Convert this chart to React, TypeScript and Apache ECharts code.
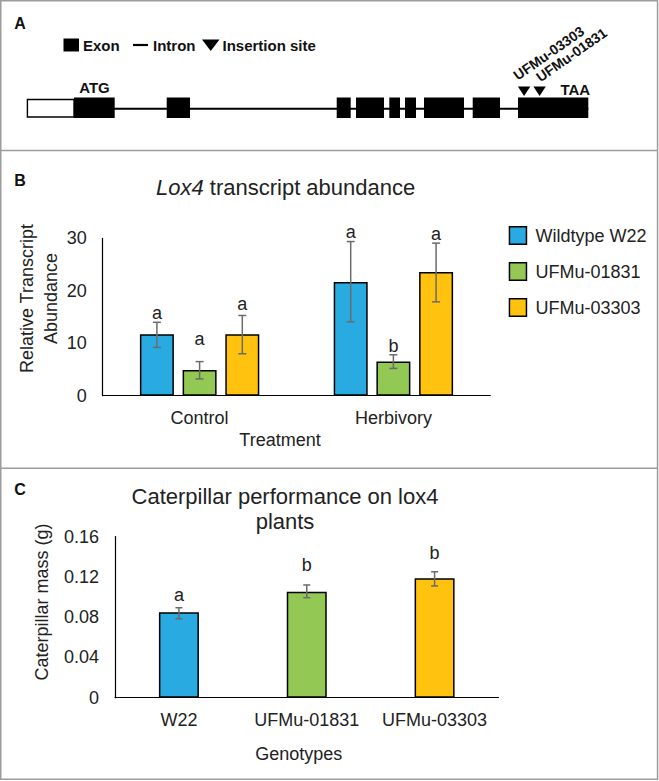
import React, { useEffect, useRef } from "react";
import * as echarts from "echarts";

const FONT = '"Liberation Sans", Arial, Helvetica, sans-serif';
const TEXT = "#222222";
const ERR = "#6b6b6b";

// ---------- Panel A: Lox4 gene model (relative gene position units) ----------
const utrStart = 0;
const utrEnd = 47.3;
const exonStarts = [47.3, 140, 310, 329.3, 362.6, 378.3, 397.3, 446, 491.3];
const exonEnds = [88, 163.3, 324, 357.3, 373.3, 389.3, 437.3, 473.3, 561.6];
const geneEnd = 561.6;
const insertionSites = [497.4, 512.9];
const insertionNames = ["UFMu-03303", "UFMu-01831"];
const codonLabels = ["ATG", "TAA"];
const codonPositions = [67.8, 548.6];

// ---------- Panel B: Lox4 transcript abundance ----------
const treatments = ["Control", "Herbivory"];
const genotypesB = ["Wildtype W22", "UFMu-01831", "UFMu-03303"];
const wildtypeW22 = [11.7, 21.7];
const ufmu01831 = [4.9, 6.5];
const ufmu03303 = [11.7, 23.6];
const wildtypeLow = [9.2, 14.1];
const wildtypeHigh = [14.0, 29.4];
const ufmu01831Low = [3.2, 5.2];
const ufmu01831High = [6.5, 7.8];
const ufmu03303Low = [8.0, 17.9];
const ufmu03303High = [15.3, 29.1];
const wildtypeLetters = ["a", "a"];
const ufmu01831Letters = ["a", "b"];
const ufmu03303Letters = ["a", "a"];
const wildtypeLetterAt = [15.4, 31.0];
const ufmu01831LetterAt = [10.6, 9.2];
const ufmu03303LetterAt = [17.2, 30.6];
const yMaxB = 30;
const yStepB = 10;

// ---------- Panel C: Caterpillar performance ----------
const genotypesC = ["W22", "UFMu-01831", "UFMu-03303"];
const caterpillarMass = [0.0848, 0.1052, 0.1185];
const massLow = [0.0784, 0.0993, 0.1109];
const massHigh = [0.0893, 0.1119, 0.125];
const massLetters = ["a", "b", "b"];
const massLetterAt = [0.1009, 0.1307, 0.1426];
const yMaxC = 0.16;
const yStepC = 0.04;

const COLORS = ["#29abe2", "#92c853", "#ffc20e"];
const BAR_W_B = 34;
const BAR_STEP_B = 42.7;
const BAR_W_C = 40;

function textEl(x: number, y: number, text: string, size: number, extra: any = {}) {
  return {
    type: "text",
    x,
    y,
    silent: true,
    style: {
      text,
      fill: TEXT,
      fontSize: size,
      fontFamily: FONT,
      align: "center",
      verticalAlign: "middle",
      textAlign: "center",
      textVerticalAlign: "middle",
      ...extra,
    },
  };
}

function errSeries(
  xAxisIndex: number,
  low: number[],
  high: number[],
  letters: string[],
  letterAt: number[],
  offset: number,
  capHalf: number
) {
  return {
    type: "custom",
    xAxisIndex,
    yAxisIndex: xAxisIndex,
    silent: true,
    z: 5,
    data: low.map((l, i) => [i, l, high[i], letterAt[i]]),
    renderItem: (params: any, api: any) => {
      const i = api.value(0);
      const pl = api.coord([i, api.value(1)]);
      const ph = api.coord([i, api.value(2)]);
      const pt = api.coord([i, api.value(3)]);
      const x = pl[0] + offset;
      const ls = { stroke: ERR, lineWidth: 1.5 };
      return {
        type: "group",
        children: [
          { type: "line", shape: { x1: x, y1: pl[1], x2: x, y2: ph[1] }, style: ls },
          { type: "line", shape: { x1: x - capHalf, y1: pl[1], x2: x + capHalf, y2: pl[1] }, style: ls },
          { type: "line", shape: { x1: x - capHalf, y1: ph[1], x2: x + capHalf, y2: ph[1] }, style: ls },
          textEl(x, pt[1] - 1.5, letters[params.dataIndex], 18),
        ],
      };
    },
  };
}

export default function App() {
  const ref = useRef<HTMLDivElement>(null);

  useEffect(() => {
    if (!ref.current) return;
    const chart = echarts.init(ref.current, undefined, { renderer: "svg" });

    const barsB = [wildtypeW22, ufmu01831, ufmu03303].map((d, k) => ({
      type: "bar",
      name: genotypesB[k],
      xAxisIndex: 1,
      yAxisIndex: 1,
      data: d,
      barWidth: BAR_W_B,
      barGap: "25.6%",
      silent: true,
      itemStyle: { color: COLORS[k], borderColor: "#000", borderWidth: 1.5 },
    }));

    const errB = [
      errSeries(1, wildtypeLow, wildtypeHigh, wildtypeLetters, wildtypeLetterAt, -BAR_STEP_B, 4),
      errSeries(1, ufmu01831Low, ufmu01831High, ufmu01831Letters, ufmu01831LetterAt, 0, 4),
      errSeries(1, ufmu03303Low, ufmu03303High, ufmu03303Letters, ufmu03303LetterAt, BAR_STEP_B, 4),
    ];

    const axisLine = { show: true, lineStyle: { color: "#000", width: 1.2 } };
    const labelStyle = { fontSize: 18, color: TEXT, fontFamily: FONT };

    const option: any = {
      animation: false,
      textStyle: { fontFamily: FONT },
      title: [
        {
          text: "{i|Lox4} transcript abundance",
          left: 285.6,
          top: 176,
          textAlign: "center",
          textVerticalAlign: "top",
          padding: 0,
          textStyle: {
            fontSize: 22,
            fontWeight: "normal",
            color: TEXT,
            fontFamily: FONT,
            rich: { i: { fontStyle: "italic", fontSize: 22, color: TEXT, fontFamily: FONT } },
          },
        },
        {
          text: "Caterpillar performance on lox4\nplants",
          left: 285,
          top: 484.2,
          textAlign: "center",
          textVerticalAlign: "top",
          padding: 0,
          textStyle: { fontSize: 22, lineHeight: 25, fontWeight: "normal", color: TEXT, fontFamily: FONT },
        },
      ],
      legend: {
        data: genotypesB,
        orient: "vertical",
        left: 508.7,
        top: 226,
        padding: 0,
        itemWidth: 17,
        itemHeight: 17.5,
        itemGap: 17,
        icon: "rect",
        selectedMode: false,
        itemStyle: { borderColor: "#000", borderWidth: 1.5 },
        textStyle: { fontSize: 18, color: TEXT, fontFamily: FONT, padding: [0, 0, 0, 4] },
      },
      grid: [
        { left: 26.7, top: 97.5, width: 561.6, height: 20.5, outerBoundsMode: "none" },
        { left: 102.7, top: 238.4, width: 387.6, height: 157.3, outerBoundsMode: "none" },
        { left: 115, top: 536.5, width: 383.5, height: 161.2, outerBoundsMode: "none" },
      ],
      xAxis: [
        { gridIndex: 0, type: "value", min: 0, max: geneEnd, show: false },
        {
          gridIndex: 1,
          type: "category",
          data: treatments,
          name: "Treatment",
          nameLocation: "middle",
          nameGap: 35,
          nameMoveOverlap: false,
          nameTextStyle: { ...labelStyle, padding: [0, 33, 0, 0] },
          axisLine,
          axisTick: { show: false },
          axisLabel: { ...labelStyle, margin: 13, interval: 0 },
        },
        {
          gridIndex: 2,
          type: "category",
          data: genotypesC,
          name: "Genotypes",
          nameLocation: "middle",
          nameGap: 47,
          nameMoveOverlap: false,
          nameTextStyle: { ...labelStyle, padding: [0, 16, 0, 0] },
          axisLine,
          axisTick: { show: false },
          axisLabel: { ...labelStyle, margin: 13, interval: 0, hideOverlap: false },
        },
      ],
      yAxis: [
        { gridIndex: 0, type: "value", min: 0, max: 1, show: false },
        {
          gridIndex: 1,
          type: "value",
          min: 0,
          max: yMaxB,
          interval: yStepB,
          name: "Relative Transcript\nAbundance",
          nameLocation: "middle",
          nameGap: 40,
          nameMoveOverlap: false,
          nameTextStyle: { ...labelStyle, lineHeight: 23.5, padding: [0, 0, 0, 37] },
          axisLine,
          axisTick: { show: false },
          splitLine: { show: false },
          axisLabel: { ...labelStyle, margin: 16 },
        },
        {
          gridIndex: 2,
          type: "value",
          min: 0,
          max: yMaxC,
          interval: yStepC,
          name: "Caterpillar mass (g)",
          nameLocation: "middle",
          nameGap: 64,
          nameMoveOverlap: false,
          nameTextStyle: { ...labelStyle, padding: [0, 0, 0, 30] },
          axisLine,
          axisTick: { show: false },
          splitLine: { show: false },
          axisLabel: { ...labelStyle, margin: 16 },
        },
      ],
      series: [
        // Panel A: intron line
        {
          type: "custom",
          xAxisIndex: 0,
          yAxisIndex: 0,
          silent: true,
          data: [[utrEnd, geneEnd]],
          renderItem: (_p: any, api: any) => {
            const a = api.coord([api.value(0), 0.45]);
            const b = api.coord([api.value(1), 0.45]);
            return {
              type: "line",
              shape: { x1: a[0], y1: a[1], x2: b[0], y2: b[1] },
              style: { stroke: "#000", lineWidth: 2 },
            };
          },
        },
        // Panel A: 5' UTR (white box)
        {
          type: "custom",
          xAxisIndex: 0,
          yAxisIndex: 0,
          silent: true,
          z: 3,
          data: [[utrStart, utrEnd]],
          renderItem: (_p: any, api: any) => {
            const a = api.coord([api.value(0), 1]);
            const b = api.coord([api.value(1), 0]);
            return {
              type: "rect",
              shape: { x: a[0] + 0.7, y: a[1] + 2, width: b[0] - a[0] - 0.7, height: b[1] - a[1] - 3 },
              style: { fill: "#fff", stroke: "#000", lineWidth: 1.4 },
            };
          },
        },
        // Panel A: exons
        {
          type: "custom",
          xAxisIndex: 0,
          yAxisIndex: 0,
          silent: true,
          z: 4,
          data: exonStarts.map((s, i) => [s, exonEnds[i]]),
          renderItem: (_p: any, api: any) => {
            const a = api.coord([api.value(0), 1]);
            const b = api.coord([api.value(1), 0]);
            return {
              type: "rect",
              shape: { x: a[0], y: a[1], width: b[0] - a[0], height: b[1] - a[1] },
              style: { fill: "#000" },
            };
          },
        },
        // Panel A: start / stop codon labels
        {
          type: "custom",
          xAxisIndex: 0,
          yAxisIndex: 0,
          silent: true,
          data: codonPositions.map((p) => [p, 1]),
          renderItem: (params: any, api: any) => {
            const a = api.coord([api.value(0), 1]);
            const dy = params.dataIndex === 0 ? -10.5 : -8.5;
            return textEl(a[0], a[1] + dy, codonLabels[params.dataIndex], 15, { fontWeight: "bold", fill: "#111" });
          },
        },
        // Panel A: insertion sites
        {
          type: "custom",
          xAxisIndex: 0,
          yAxisIndex: 0,
          silent: true,
          data: insertionSites.map((p) => [p, 1]),
          renderItem: (params: any, api: any) => {
            const a = api.coord([api.value(0), 1]);
            const tipY = a[1] - 1.5;
            const off = params.dataIndex === 0 ? [-5.1, -13.5] : [2.1, -11.8];
            return {
              type: "group",
              children: [
                {
                  type: "polygon",
                  shape: { points: [[a[0] - 6.2, tipY - 9.5], [a[0] + 6.2, tipY - 9.5], [a[0], tipY]] },
                  style: { fill: "#000" },
                },
                {
                  type: "text",
                  x: a[0] + off[0],
                  y: tipY + off[1],
                  rotation: (35 * Math.PI) / 180,
                  style: {
                    text: insertionNames[params.dataIndex],
                    fill: "#111",
                    fontSize: 14,
                    fontWeight: "bold",
                    fontFamily: FONT,
                    align: "left",
                    verticalAlign: "bottom",
                    textAlign: "left",
                    textVerticalAlign: "bottom",
                  },
                },
              ],
            };
          },
        },
        // Panel B bars + error bars
        ...barsB,
        ...errB,
        // Panel C bars
        {
          type: "bar",
          name: "Caterpillar mass",
          xAxisIndex: 2,
          yAxisIndex: 2,
          barWidth: BAR_W_C,
          silent: true,
          data: caterpillarMass.map((v, i) => ({
            value: v,
            itemStyle: { color: COLORS[i], borderColor: "#000", borderWidth: 1.5 },
          })),
        },
        errSeries(2, massLow, massHigh, massLetters, massLetterAt, 0, 3.5),
      ],
      graphic: [
        {
          type: "rect",
          silent: true,
          shape: { x: 0.75, y: 0.75, width: 656.8, height: 778.6 },
          style: { fill: "none", stroke: "#9c9c9c", lineWidth: 1.5 },
        },
        { type: "line", silent: true, shape: { x1: 0, y1: 150.5, x2: 658, y2: 150.5 }, style: { stroke: "#9c9c9c", lineWidth: 1.5 } },
        { type: "line", silent: true, shape: { x1: 0, y1: 468.2, x2: 658, y2: 468.2 }, style: { stroke: "#9c9c9c", lineWidth: 1.5 } },
        // panel letters
        textEl(20, 23, "A", 16, { fontWeight: "bold", fill: "#111" }),
        textEl(20, 180, "B", 16, { fontWeight: "bold", fill: "#111" }),
        textEl(20, 489, "C", 16, { fontWeight: "bold", fill: "#111" }),
        // panel A legend
        { type: "rect", silent: true, shape: { x: 63.5, y: 38.5, width: 15.5, height: 13 }, style: { fill: "#000" } },
        textEl(83, 45.3, "Exon", 15, { fontWeight: "bold", fill: "#111", align: "left", textAlign: "left" }),
        { type: "line", silent: true, shape: { x1: 133, y1: 45, x2: 148, y2: 45 }, style: { stroke: "#000", lineWidth: 2.2 } },
        textEl(153, 45.3, "Intron", 15, { fontWeight: "bold", fill: "#111", align: "left", textAlign: "left" }),
        {
          type: "polygon",
          silent: true,
          shape: { points: [[202, 39.5], [219.5, 39.5], [210.75, 51]] },
          style: { fill: "#000" },
        },
        textEl(222.5, 45.3, "Insertion site", 15, { fontWeight: "bold", fill: "#111", align: "left", textAlign: "left" }),
      ],
    };

    chart.setOption(option);
    return () => chart.dispose();
  }, []);

  return (
    <div
      ref={ref}
      style={{ position: "absolute", left: 0, top: 0, width: 659, height: 781, background: "#fff" }}
    />
  );
}
